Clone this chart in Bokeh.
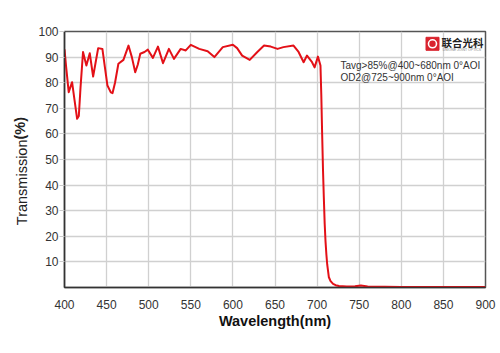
import math
from bokeh.plotting import figure
from bokeh.models import FixedTicker, Label, Range1d
from bokeh.embed import file_html
from bokeh.resources import INLINE

wavelength = [400, 402, 405, 409, 412, 415, 417, 419, 422, 426, 430, 434, 437, 440, 445, 448,
              451, 455, 457, 460, 464, 470, 476, 480, 484, 487, 490, 495, 499, 505, 511,
              517, 524, 530, 538, 544, 550, 560, 570, 578, 588, 600, 605, 611, 620, 629,
              637, 645, 653, 660, 672, 678, 684, 688, 694, 697, 701, 704, 705, 706, 707,
              708, 709, 710, 711, 712, 714, 716, 719, 722, 726, 735, 745, 752, 760, 780,
              800, 850, 900]
transmission = [93, 86, 76.3, 80.2, 73, 65.9, 67, 78, 92, 86.7, 91.5, 82.4, 88, 93.5, 93.2, 86,
                78.9, 76.2, 75.9, 80, 87.4, 88.9, 94.5, 90, 84.1, 87, 91.3, 92, 92.9, 89.7, 94.1,
                87.6, 93.2, 89.3, 93.2, 92.6, 94.8, 93.2, 92.3, 90, 93.9, 94.8, 93.5, 90.6, 88.9, 92,
                94.5, 94.1, 93.2, 93.9, 94.5, 92, 88, 90.6, 88, 86, 90.2, 86.7, 75, 60, 46,
                35, 25, 18, 13, 9, 4, 2.5, 1.4, 0.9, 0.6, 0.4, 0.5, 0.8, 0.4, 0.3,
                0.2, 0.2, 0.2]

x_ticks = [400, 450, 500, 550, 600, 650, 700, 750, 800, 850, 900]
y_ticks = [10, 20, 30, 40, 50, 60, 70, 80, 90, 100]

note_lines = ["Tavg>85%@400~680nm 0°AOI", "OD2@725~900nm 0°AOI"]
x_title = "Wavelength(nm)"
y_title = "Transmission"
y_unit = "(%)"
logo_text = "联合光科"

FONT = "Liberation Sans"

p = figure(width=500, height=353, output_backend="svg", toolbar_location=None,
           x_range=Range1d(400, 900), y_range=Range1d(0, 100),
           min_border_left=64, min_border_right=15, min_border_top=31, min_border_bottom=66)
p.background_fill_color = "white"
p.border_fill_color = "white"
p.outline_line_color = "#555555"
p.outline_line_width = 1.5

p.xaxis.ticker = FixedTicker(ticks=x_ticks)
p.yaxis.ticker = FixedTicker(ticks=y_ticks)
for ax in (p.xaxis, p.yaxis):
    ax.axis_line_color = "#333333"
    ax.axis_line_width = 1.5
    ax.minor_tick_line_color = None
    ax.major_label_text_font = FONT
    ax.major_label_text_font_size = "12px"
    ax.major_label_text_color = "#333333"
p.xaxis.major_tick_line_color = None
p.xaxis.major_label_standoff = 6
p.yaxis.major_tick_line_color = "#cccccc"
p.yaxis.major_tick_out = 5
p.yaxis.major_tick_in = 0
p.yaxis.major_label_standoff = 1

p.xgrid.ticker = FixedTicker(ticks=x_ticks)
p.ygrid.ticker = FixedTicker(ticks=y_ticks)
p.grid.grid_line_color = "#d0d0d0"
p.grid.grid_line_width = 1.3

p.line(wavelength, transmission, line_color="#e31017", line_width=2, line_join="round")

xpx = 500 / 421.0
def px_to_x(px):
    return 400 + (px - 64) * xpx
def py_to_y(py):
    return (287 - py) / 2.56

# axis titles placed in side panels (screen units relative to panel slot)
p.add_layout(Label(x=2, y=287 - 139, x_units="screen", y_units="screen", text=y_title,
                   angle=math.pi / 2, text_align="right", text_baseline="middle",
                   text_font=FONT, text_font_size="14.5px", text_color="#222222"), "left")
p.add_layout(Label(x=16, y=287 - 139, x_units="screen", y_units="screen", text=y_unit,
                   angle=math.pi / 2, text_align="left", text_baseline="middle",
                   text_font=FONT, text_font_size="14.5px", text_font_style="bold",
                   text_color="#222222"), "left")
p.add_layout(Label(x=210.5, y=7, x_units="screen", y_units="screen", text=x_title,
                   text_align="center", text_baseline="middle", text_font=FONT,
                   text_font_size="14.5px", text_font_style="bold", text_color="#111111"), "below")

for i, line in enumerate(note_lines):
    p.add_layout(Label(x=px_to_x(340), y=py_to_y(65 + 12.3 * i), text=line,
                       text_align="left", text_baseline="middle", text_font=FONT,
                       text_font_size="10px", text_color="#333333"))

lx, ly = px_to_x(432), py_to_y(43.3)
p.scatter([lx], [ly], marker="square", size=13, fill_color="#d9232e", line_color="#d9232e")
p.scatter([lx], [ly], marker="circle", size=8, fill_color="#d9232e", line_color="white",
          line_width=1.6)
p.add_layout(Label(x=px_to_x(441), y=py_to_y(41.5), text=logo_text, text_align="left",
                   text_baseline="middle", text_font="Noto Sans CJK SC",
                   text_font_size="10.5px", text_font_style="bold", text_color="#222222"))
p.add_layout(Label(x=px_to_x(442), y=py_to_y(49.5), text="UNIONE  JOINT OPTICS",
                   text_align="left", text_baseline="middle", text_font=FONT,
                   text_font_size="3.5px", text_color="#888888"))

open("out.html", "w").write(file_html(p, INLINE))
